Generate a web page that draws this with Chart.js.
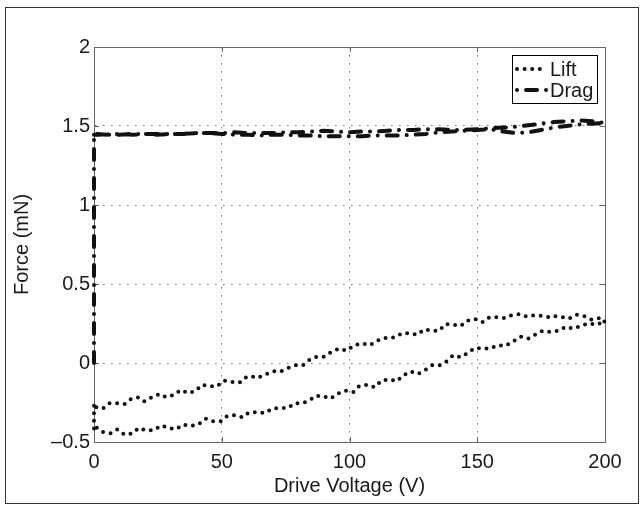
<!DOCTYPE html>
<html><head><meta charset="utf-8">
<script src="https://cdn.jsdelivr.net/npm/chart.js@4.4.0/dist/chart.umd.min.js"></script>
<style>html,body{margin:0;padding:0;background:#fff}#wrap{width:644px;height:510px;position:relative}</style>
</head><body><div id="wrap"><canvas id="c" width="644" height="510"></canvas></div>
<script>
// ---- data ----
const seriesNames = ['Lift', 'Drag'];
const xTickStep = 50, xMin = 0, xMax = 200;
const yTickStep = 0.5, yMin = -0.5, yMax = 2;

const liftV = [0, 0, 0, 0.8, 3.4, 6.5, 9.1, 12.0, 15.1, 17.5, 20.6, 23.5, 26.3, 29.2, 32.1, 35.0, 37.8, 40.7, 43.8, 46.7, 49.6, 52.2, 55.1, 58.2, 60.5, 63.7, 66.8, 69.7, 72.8, 75.9, 78.6, 81.4, 84.3, 86.6, 89.7, 92.6, 95.2, 98.4, 101.5, 103.8, 107.0, 109.9, 112.5, 115.6, 118.5, 121.1, 124.0, 126.8, 129.7, 132.3, 135.2, 138.0, 140.6, 143.5, 146.4, 149.0, 152.1, 155.0, 157.9, 161.0, 164.1, 167.0, 169.9, 172.7, 175.6, 178.5, 181.6, 184.7, 187.6, 190.5, 193.6, 197.0, 200,
  199.6, 198.0, 194.6, 191.8, 188.9, 185.8, 182.7, 180.0, 179.0, 175.6, 172.5, 169.4, 166.5, 163.3, 160.7, 157.9, 154.7, 152.1, 149.0, 146.1, 143.5, 140.6, 137.5, 135.1, 132.0, 129.2, 126.5, 123.4, 120.3, 119.3, 116.6, 113.5, 110.4, 108.0, 104.9, 101.8, 98.9, 96.0, 92.9, 90.3, 87.2, 84.3, 81.7, 78.8, 75.9, 73.1, 69.9, 66.8, 63.9, 61.3, 59.5, 56.9, 54.0, 50.9, 48.0, 45.1, 42.3, 39.9, 37.1, 33.9, 31.6, 28.4, 25.6, 22.7, 19.8, 17.5, 14.6, 12.0, 9.1, 6.0, 3.4, 0.3];
const liftF = [-0.27, -0.35, -0.43, -0.407, -0.437, -0.445, -0.420, -0.454, -0.445, -0.411, -0.428, -0.424, -0.395, -0.411, -0.420, -0.390, -0.399, -0.390, -0.352, -0.369, -0.369, -0.335, -0.331, -0.344, -0.314, -0.310, -0.318, -0.289, -0.285, -0.285, -0.255, -0.255, -0.238, -0.209, -0.209, -0.226, -0.196, -0.175, -0.184, -0.146, -0.137, -0.154, -0.112, -0.104, -0.116, -0.078, -0.053, -0.070, -0.044, -0.015, -0.015, 0.011, 0.049, 0.036, 0.065, 0.095, 0.091, 0.091, 0.112, 0.108, 0.137, 0.167, 0.154, 0.179, 0.204, 0.196, 0.204, 0.230, 0.217, 0.234, 0.251, 0.242, 0.27,
  0.259, 0.285, 0.276, 0.297, 0.306, 0.280, 0.293, 0.297, 0.289, 0.297, 0.302, 0.293, 0.310, 0.302, 0.285, 0.289, 0.289, 0.259, 0.280, 0.268, 0.234, 0.242, 0.247, 0.204, 0.204, 0.213, 0.179, 0.188, 0.188, 0.175, 0.158, 0.158, 0.137, 0.112, 0.125, 0.112, 0.078, 0.091, 0.070, 0.040, 0.040, 0.019, -0.015, -0.015, -0.032, -0.053, -0.053, -0.074, -0.095, -0.082, -0.091, -0.125, -0.120, -0.112, -0.150, -0.146, -0.137, -0.175, -0.192, -0.171, -0.200, -0.217, -0.196, -0.217, -0.243, -0.217, -0.226, -0.259, -0.255, -0.255, -0.289, -0.277];

const dragV = [0, 0, 5, 10, 15, 20, 25, 30, 35, 40, 45, 50, 55, 60, 65, 70, 75, 80, 85, 90, 95, 100, 105, 110, 115, 120, 125, 130, 135, 140, 145, 150, 155, 160, 165, 170, 175, 180, 185, 190, 195, 200,
  195, 190, 185, 180, 175, 170, 165, 160, 155, 150, 145, 140, 135, 130, 125, 120, 115, 110, 105, 100, 95, 90, 85, 80, 75, 70, 65, 60, 55, 50, 45, 40, 35, 30, 25, 20, 15, 10, 5, 0];
const dragF = [0, 1.45, 1.445, 1.45, 1.445, 1.45, 1.445, 1.45, 1.45, 1.455, 1.455, 1.45, 1.445, 1.445, 1.44, 1.445, 1.445, 1.44, 1.44, 1.435, 1.435, 1.435, 1.435, 1.44, 1.44, 1.44, 1.445, 1.45, 1.46, 1.465, 1.47, 1.475, 1.48, 1.465, 1.455, 1.46, 1.475, 1.49, 1.50, 1.51, 1.515, 1.52,
  1.53, 1.535, 1.53, 1.525, 1.515, 1.505, 1.495, 1.49, 1.485, 1.48, 1.475, 1.475, 1.48, 1.48, 1.475, 1.475, 1.47, 1.465, 1.465, 1.46, 1.465, 1.47, 1.465, 1.46, 1.46, 1.455, 1.455, 1.455, 1.46, 1.455, 1.455, 1.455, 1.45, 1.45, 1.45, 1.45, 1.45, 1.445, 1.445, 1.445];

const pts = (xs, ys) => xs.map((x, i) => ({x: x, y: ys[i]}));
const FONT = "'Liberation Sans', Arial, Helvetica, sans-serif";
const TXT = '#1a1a1a';

const decor = {
  id: 'decor',
  beforeDraw(chart) {
    const ctx = chart.ctx;
    ctx.save(); ctx.fillStyle = '#fff'; ctx.fillRect(0, 0, chart.width, chart.height); ctx.restore();
  },
  beforeDatasetsDraw(chart) {
    const ctx = chart.ctx, a = chart.chartArea, xs = chart.scales.x, ys = chart.scales.y;
    ctx.save();
    ctx.strokeStyle = '#666'; ctx.lineWidth = 1; ctx.setLineDash([]);
    ctx.strokeRect(Math.round(a.left) + 0.5, Math.round(a.top) + 0.5, Math.round(a.right - a.left), Math.round(a.bottom - a.top));
    const tl = 5;
    ctx.beginPath();
    xs.ticks.forEach(t => {
      const px = Math.round(xs.getPixelForValue(t.value)) + 0.5;
      ctx.moveTo(px, a.bottom); ctx.lineTo(px, a.bottom - tl);
      ctx.moveTo(px, a.top); ctx.lineTo(px, a.top + tl);
    });
    ys.ticks.forEach(t => {
      const py = Math.round(ys.getPixelForValue(t.value)) + 0.5;
      ctx.moveTo(a.left, py); ctx.lineTo(a.left + tl, py);
      ctx.moveTo(a.right, py); ctx.lineTo(a.right - tl, py);
    });
    ctx.stroke();
    ctx.restore();
  },
  afterDatasetsDraw(chart) {
    const ctx = chart.ctx, ds = chart.data.datasets;
    const a = chart.chartArea;
    const bx = a.right - 93, by = a.top + 8, bw = 85, bh = 48;
    ctx.save();
    ctx.fillStyle = '#fff'; ctx.fillRect(bx, by, bw, bh);
    ctx.strokeStyle = '#000'; ctx.lineWidth = 1; ctx.setLineDash([]);
    ctx.strokeRect(bx + 0.5, by + 0.5, bw, bh);
    const rows = [by + 14, by + 35];
    ds.forEach((d, i) => {
      const y = rows[i];
      ctx.save();
      ctx.strokeStyle = d.borderColor; ctx.lineWidth = d.borderWidth;
      ctx.lineCap = d.borderCapStyle; ctx.setLineDash(d.borderDash);
      ctx.lineDashOffset = i === 1 ? 20 : 0;
      ctx.beginPath(); ctx.moveTo(bx + 5, y); ctx.lineTo(bx + (i === 1 ? 35 : 30), y); ctx.stroke();
      ctx.restore();
      ctx.fillStyle = TXT; ctx.font = '20px ' + FONT; ctx.textBaseline = 'middle'; ctx.textAlign = 'left';
      ctx.fillText(d.label, bx + 38, y + 1);
    });
    ctx.restore();
  },
  afterDraw(chart) {
    const ctx = chart.ctx;
    ctx.save(); ctx.strokeStyle = '#333'; ctx.lineWidth = 1; ctx.setLineDash([]);
    ctx.strokeRect(5.5, 7.5, 633, 496);
    ctx.restore();
  }
};

new Chart(document.getElementById('c'), {
  type: 'scatter',
  data: {
    datasets: [
      {label: seriesNames[0], data: pts(liftV, liftF), showLine: true, borderColor: '#111', borderWidth: 4,
       borderDash: [0, 7.6], borderCapStyle: 'round', pointRadius: 0, fill: false, tension: 0, clip: 4},
      {label: seriesNames[1], data: pts(dragV, dragF), showLine: true, borderColor: '#111', borderWidth: 4,
       borderDash: [11, 9, 0.01, 9], borderCapStyle: 'round', pointRadius: 0, fill: false, tension: 0, clip: 4}
    ]
  },
  options: {
    responsive: false, animation: false, devicePixelRatio: 1,
    layout: {padding: {left: 0, right: 39, top: 47, bottom: 0}},
    plugins: {legend: {display: false}, tooltip: {enabled: false}},
    scales: {
      x: {
        type: 'linear', min: xMin, max: xMax,
        afterFit: s => { s.height = 68; },
        ticks: {stepSize: xTickStep, color: TXT, font: {family: FONT, size: 20}, padding: 8, maxRotation: 0},
        grid: {color: '#777', lineWidth: 1, drawTicks: false},
        border: {display: true, color: '#666', width: 1, dash: [1.5, 6.5]},
        title: {display: true, text: 'Drive Voltage (V)', color: TXT, font: {family: FONT, size: 20}, padding: {top: 4, bottom: 12}}
      },
      y: {
        type: 'linear', min: yMin, max: yMax,
        afterFit: s => { s.width = 94; },
        ticks: {stepSize: yTickStep, color: TXT, font: {family: FONT, size: 20}, padding: 4,
                callback: v => String(v).replace('-', '\u2013')},
        grid: {color: '#777', lineWidth: 1, drawTicks: false},
        border: {display: true, color: '#666', width: 1, dash: [1.5, 6.5]},
        title: {display: true, text: 'Force (mN)', color: TXT, font: {family: FONT, size: 20}, padding: {top: 10, bottom: 10}}
      }
    }
  },
  plugins: [decor]
});
</script>
</body></html>
